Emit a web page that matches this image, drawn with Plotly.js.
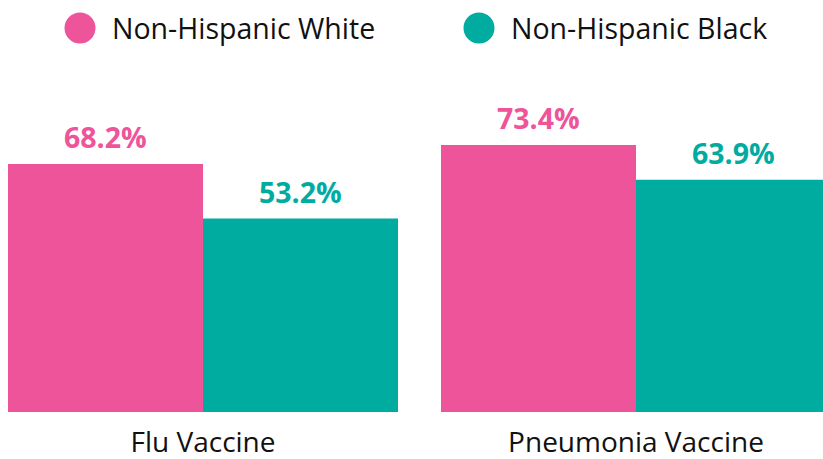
<!DOCTYPE html>
<html><head><meta charset="utf-8">
<script src="https://cdn.plot.ly/plotly-3.0.1.min.js"></script>
<style>html,body{margin:0;padding:0;background:#fff}#c{width:823px;height:459px}</style>
</head><body><div id="c"></div>
<script>
const categories = ["Flu Vaccine", "Pneumonia Vaccine"];
const seriesNames = ["Non-Hispanic White", "Non-Hispanic Black"];
const whiteValues = [68.2, 73.4];
const blackValues = [53.2, 63.9];
const colors = ["#EE5499", "#00AB9F"];

const FONT = "'Open Sans', Lato, sans-serif";
const bargap = 0.0993;
const xIdx = categories.map((_, i) => i);
const seriesValues = [whiteValues, blackValues];

const traces = seriesValues.map((vals, s) => ({
  type: "bar", x: xIdx, y: vals, name: seriesNames[s],
  marker: {color: colors[s], line: {width: 0}},
  hoverinfo: "skip", showlegend: false
}));

const half = (1 - bargap) / 4;
const annotations = [];
seriesValues.forEach((vals, s) => {
  vals.forEach((v, i) => {
    annotations.push({
      x: i + (s === 0 ? -half : half), y: v, xref: "x", yref: "y",
      text: v.toFixed(1) + "%", showarrow: false, yanchor: "bottom", yshift: 6,
      font: {family: FONT, size: 28.5, color: colors[s], weight: 700}
    });
  });
});

// custom legend
const legendX = [80, 479];
const shapes = [];
seriesNames.forEach((n, s) => {
  const cx = legendX[s] / 823;
  shapes.push({type: "circle", xref: "paper", yref: "paper", xsizemode: "pixel", ysizemode: "pixel",
    xanchor: cx, yanchor: 1, x0: -15.5, x1: 15.5, y0: -15.5, y1: 15.5,
    fillcolor: colors[s], line: {width: 0}});
  annotations.push({xref: "paper", yref: "paper", x: (legendX[s] + 30) / 823, y: 1,
    xanchor: "left", yanchor: "middle", text: n, showarrow: false,
    font: {family: FONT, size: 28.5, color: "#111"}});
});

const plotTop = 28; // legend centre row; plot area top
const layout = {
  width: 823, height: 459,
  margin: {l: 0, r: 0, t: plotTop, b: 47, pad: 0},
  paper_bgcolor: "#fff", plot_bgcolor: "#fff",
  barmode: "group", bargap: bargap, bargroupgap: 0,
  showlegend: false,
  xaxis: {range: [-203/433, -203/433 + 823/433], tickvals: xIdx, ticktext: categories,
    showgrid: false, zeroline: false, showline: false, ticks: "", ticklabelstandoff: 11,
    tickfont: {family: FONT, size: 28, color: "#111"}, fixedrange: true},
  yaxis: {range: [0, (459 - 47 - plotTop) / 3.636], visible: false, showgrid: false, zeroline: false, fixedrange: true},
  shapes: shapes, annotations: annotations
};
Plotly.newPlot("c", traces, layout, {displayModeBar: false, staticPlot: true});
</script></body></html>
